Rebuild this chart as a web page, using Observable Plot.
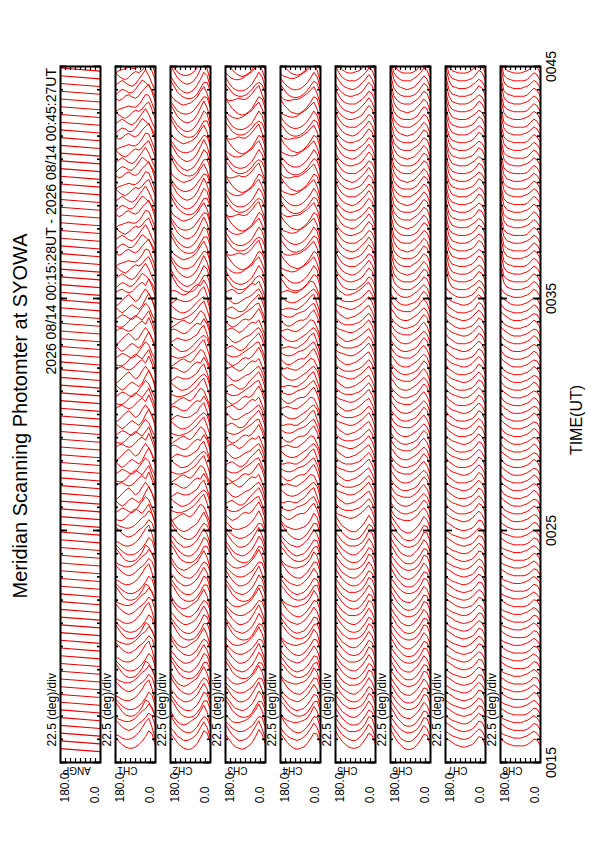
<!DOCTYPE html>
<html>
<head>
<meta charset="utf-8">
<script src="https://cdn.jsdelivr.net/npm/d3@7"></script>
<script src="https://cdn.jsdelivr.net/npm/@observablehq/plot@0.6"></script>
<style>
  html, body { margin: 0; padding: 0; background: #fff; }
  svg { display: block; }
</style>
</head>
<body>
<div id="chart"></div>
<script>
// ---------- data ----------
const channels = ["ANGP", "CH1", "CH2", "CH3", "CH4", "CH5", "CH6", "CH7", "CH8"];
const angles = [180, 165, 150, 135, 120, 105, 90, 75, 60, 45, 30, 15, 0];
const angleTicks = [22.5, 45, 67.5, 90, 112.5, 135, 157.5];
const timeTickLabels = ["0015", "0025", "0035", "0045"];
const day = "2026-08-14";
const scanStart = "00:15:28";
const scanEnd = "00:45:27";
const scanStepSec = 20;
const angpSweepSec = 8;                  // ANGP trace tilt during one sweep
const angpDirection = [0, 180];          // sweep from 0 deg to 180 deg
const blockStarts = ["00:15:00", "00:25:00", "00:35:00"];
const titleText = "Meridian Scanning Photomter at SYOWA";
const subtitleText = "2026 08/14 00:15:28UT - 2026 08/14 00:45:27UT";
const divLabel = "22.5 (deg)/div";
const axisTitle = "TIME(UT)";
const deflectSecPerUnit = 3.0;           // trace deflection (seconds of time per unit)

// profiles: [block][variant][angle 180 -> 0]
const ch1 = [
  [[12, 9, 6, 4, 3, 3, 4, 6, 9,13,18,15, 5],
   [ 8, 7, 5, 4, 4, 5, 7,10,14,19,22,14, 3],
   [14,11, 8, 6, 5, 6, 8,11,13,16,20,17, 8],
   [10, 8, 7, 6, 6, 7, 9,12,15,17,21,18, 9],
   [16,12, 8, 5, 4, 4, 5, 8,12,18,16,10, 4]],
  [[ 6, 8,10, 9, 7, 6, 8,12,16,20,17,10, 4],
   [10, 7, 5, 7,10,12,10, 8,11,17,22,16, 6],
   [ 4, 6, 9,12,14,11, 8,10,15,19,15, 9, 3],
   [ 9,11,12,10, 9,10,13,16,18,15,21,14, 5],
   [ 7, 6, 6, 8,11,14,16,14,12,16,20,12, 3]],
  [[ 8,10,12,10, 8, 7, 9,13,17,21,16, 9, 3],
   [12, 9, 7, 6, 8,11,13,12,14,18,20,13, 5],
   [ 5, 7, 8, 9,10, 9, 9,11,15,20,19,12, 4],
   [10, 8, 9,12,13,11,10,12,16,19,22,15, 6],
   [ 6, 9,11,10, 8, 8,11,15,19,17,14,10, 4]]
];
const ch2 = [
  [[16,12, 8, 5, 3, 2, 2, 4, 7,12,18,16, 7],
   [14,11, 7, 5, 3, 3, 4, 6, 9,14,19,14, 5],
   [18,13, 9, 6, 4, 3, 3, 5, 8,13,17,15, 8],
   [15,10, 6, 4, 3, 4, 6, 8,10,15,20,14, 4],
   [19,15,10, 6, 4, 3, 3, 4, 7,11,17,17, 9]],
  [[ 8, 7, 6, 6, 7, 8,10,12,15,19,22,14, 5],
   [12, 9, 7, 5, 5, 6, 8,11,14,17,19,16, 7],
   [ 6, 8,10, 9, 8, 8, 9,11,13,18,21,13, 4],
   [10,11,10, 8, 7, 8,11,14,16,15,20,15, 6],
   [ 5, 7, 9,11,12,10, 9,12,16,20,18,11, 3]],
  [[16,11, 7, 4, 2, 1, 2, 4, 8,13,19,16, 6],
   [18,13, 8, 5, 3, 2, 3, 5, 9,15,21,15, 5],
   [14,10, 6, 4, 3, 3, 4, 6,10,14,18,17, 8],
   [13, 9, 7, 5, 4, 5, 6, 8,11,16,20,14, 4],
   [19,14, 9, 6, 4, 3, 3, 4, 7,12,17,17, 9]]
];
const ch3 = [
  [[15,11, 7, 4, 3, 2, 3, 5, 8,13,19,15, 6],
   [17,12, 8, 5, 3, 3, 4, 6,10,15,20,13, 4],
   [13,10, 7, 5, 4, 4, 5, 7, 9,13,17,16, 7],
   [12, 9, 6, 5, 5, 6, 7, 9,12,16,21,15, 5],
   [18,14, 9, 6, 4, 3, 3, 4, 7,12,17,16, 8]],
  [[10, 8, 7, 7, 8,10,12,14,16,19,20,13, 5],
   [ 7, 9,10, 8, 6, 6, 8,12,15,18,21,15, 6],
   [13,10, 7, 6, 7, 9,11,12,14,17,19,14, 4],
   [ 9,11,12,10, 8, 9,12,15,17,16,19,12, 4],
   [11, 8, 6, 7, 9,12,13,12,14,18,22,16, 6]],
  [[15,10, 6, 4, 3, 3, 4, 6, 9,14,19,15, 5],
   [12, 9, 7, 6, 6, 7, 9,11,13,17,20,14, 6],
   [17,12, 8, 5, 3, 2, 3, 5, 8,13,18,16, 7],
   [10, 8, 8, 9,10, 9, 9,11,14,18,21,13, 5],
   [16,12, 8, 6, 5, 5, 6, 8,11,15,17,15, 7]]
];
const ch4 = [
  [[16,12, 8, 5, 3, 2, 3, 4, 7,11,16,15, 6],
   [14,10, 7, 5, 4, 3, 4, 6, 9,13,18,14, 5],
   [18,13, 9, 6, 4, 3, 3, 5, 8,12,17,16, 7],
   [13, 9, 7, 6, 5, 5, 6, 7, 9,13,19,15, 5],
   [17,14,10, 7, 5, 4, 4, 5, 7,11,16,17, 8]],
  [[11, 9, 8, 8, 9,11,12,13,15,18,20,14, 5],
   [ 8, 8, 9, 9, 8, 8,10,12,15,19,21,13, 4],
   [13,10, 8, 7, 7, 8,10,12,14,17,19,15, 6],
   [ 9,10,11,10, 9, 9,11,13,16,19,18,12, 4],
   [12, 9, 7, 7, 9,11,12,12,14,18,21,15, 6]],
  [[14,10, 7, 5, 4, 4, 5, 7,10,14,19,15, 5],
   [11, 9, 8, 7, 7, 8,10,12,14,17,20,14, 4],
   [16,11, 8, 5, 4, 3, 4, 6, 9,13,18,16, 6],
   [12, 9, 8, 8, 9, 9,10,12,14,17,20,14, 5],
   [15,11, 7, 5, 4, 4, 5, 7,10,14,18,16, 7]]
];
const ch5 = [
  [[18,13, 9, 6, 4, 3, 3, 4, 7,11,16,14, 6],
   [17,12, 8, 6, 4, 3, 3, 5, 8,12,17,13, 5],
   [16,12, 8, 6, 4, 4, 4, 5, 7,11,17,15, 6]],
  [[14,11, 9, 8, 8, 8, 9,10,12,15,18,14, 5],
   [15,11, 9, 7, 7, 8, 9,11,13,16,18,13, 5],
   [13,11,10, 9, 8, 8, 9,11,13,16,19,14, 5]],
  [[16,11, 8, 6, 5, 5, 6, 7, 9,13,17,14, 5],
   [17,12, 8, 6, 5, 4, 5, 7,10,13,17,13, 5],
   [18,12, 8, 6, 5, 5, 5, 7, 9,12,16,14, 6]]
];
const ch6 = [
  [[19,14, 9, 6, 3, 2, 2, 3, 6,10,15,14, 6],
   [18,13, 9, 5, 3, 2, 2, 4, 7,11,16,13, 5],
   [17,13, 9, 6, 4, 3, 3, 4, 6,10,16,15, 7]],
  [[15,11, 8, 6, 5, 5, 6, 7, 9,13,17,14, 5],
   [16,12, 8, 6, 5, 5, 6, 8,10,13,16,13, 5],
   [16,11, 8, 7, 6, 6, 6, 8,10,14,17,13, 5]],
  [[24,12, 8, 6, 5, 5, 5, 6, 8,12,16,14, 6],
   [25,13, 8, 6, 5, 4, 5, 6, 9,12,16,13, 5],
   [24,12, 8, 6, 5, 5, 5, 7, 9,12,16,14, 6]]
];
const ch7 = [
  [[12,10, 8, 6, 5, 4, 4, 5, 6, 9,13,12, 5],
   [11, 9, 7, 6, 5, 4, 4, 5, 7,10,13,11, 5]],
  [[14,10, 8, 6, 5, 5, 5, 6, 7,10,14,12, 5],
   [13,10, 8, 7, 6, 5, 5, 6, 8,11,14,11, 5]],
  [[24,11, 7, 6, 5, 5, 5, 6, 7,10,14,12, 5],
   [25,12, 7, 6, 5, 5, 5, 6, 8,10,13,11, 5]]
];
const ch8 = [
  [[11, 9, 7, 6, 5, 5, 5, 5, 6, 8,11,10, 5],
   [10, 8, 7, 6, 5, 5, 5, 6, 7, 9,11, 9, 5]],
  [[13, 9, 7, 6, 5, 5, 5, 6, 7, 9,12,10, 5],
   [13,10, 8, 6, 5, 5, 5, 6, 7, 9,11,10, 5]],
  [[23,10, 7, 6, 5, 5, 5, 5, 6, 9,12,10, 5],
   [24,11, 7, 6, 5, 5, 5, 6, 7, 9,12,10, 5]]
];

// ---------- build tables ----------
const T = hms => new Date(`${day}T${hms}Z`);
const profileSets = {CH1: ch1, CH2: ch2, CH3: ch3, CH4: ch4, CH5: ch5, CH6: ch6, CH7: ch7, CH8: ch8};
const t0 = T(scanStart), t1 = T(scanEnd);
const nScans = Math.floor((t1 - t0) / (scanStepSec * 1000)) + 1;
const scanTimes = d3.range(nScans).map(i => new Date(+t0 + i * scanStepSec * 1000));
const blockTimes = blockStarts.map(T);

const traces = [];
scanTimes.forEach((t, i) => {
  const b = Math.max(0, d3.bisectRight(blockTimes, t) - 1);
  for (const ch of channels.slice(1)) {
    const variants = profileSets[ch][b];
    const prof = variants[i % variants.length];
    prof.forEach((v, k) => traces.push({
      ch, scan: i, angle: angles[k],
      time: new Date(+t + v * deflectSecPerUnit * 1000)
    }));
  }
});
const angp = [];
scanTimes.forEach((t, i) => {
  angp.push({ch: "ANGP", scan: i, angle: angpDirection[0], time: t});
  angp.push({ch: "ANGP", scan: i, angle: angpDirection[1], time: new Date(+t + angpSweepSec * 1000)});
});

const yStart = T("00:15:00"), yEnd = T("00:45:00");
const minuteTimes = d3.utcMinute.range(yStart, new Date(+yEnd + 1));
const labelTimes = timeTickLabels.map(l => T(`${l.slice(0, 2)}:${l.slice(2)}:00`));

const degPerPx = 180 / 40;
const secPerPx = 1800 / 696;
const shift = (d, px) => new Date(+d + px * secPerPx * 1000);

const font = "Liberation Sans, Arial, Helvetica, sans-serif";

const chart = Plot.plot({
  width: 595,
  height: 842,
  marginLeft: 60,
  marginRight: 55,
  marginTop: 66,
  marginBottom: 80,
  style: {fontFamily: font, background: "#fff", overflow: "visible"},
  fx: {domain: channels, paddingInner: 15 / 55, paddingOuter: 0, axis: null, label: null},
  x: {domain: [180, 0], axis: null},
  y: {type: "utc", domain: [yStart, yEnd], axis: null},
  marks: [
    Plot.line(traces, {fx: "ch", x: "angle", y: "time", z: "scan", stroke: "#ff0000", strokeWidth: 1, clip: true}),
    Plot.line(angp, {fx: "ch", x: "angle", y: "time", z: "scan", stroke: "#e80000", strokeWidth: 1.1, clip: true}),
    // angle ticks on bottom and top edges
    Plot.ruleX(angleTicks, {x: d => d, y1: () => yStart, y2: () => shift(yStart, 4), stroke: "black", strokeWidth: 1.2}),
    Plot.ruleX(angleTicks, {x: d => d, y1: () => yEnd, y2: () => shift(yEnd, -4), stroke: "black", strokeWidth: 1.2}),
    // minute ticks on both sides
    Plot.ruleY(minuteTimes, {y: d => d, x1: () => 180, x2: () => 180 - 3 * degPerPx, stroke: "black", strokeWidth: 1.6}),
    Plot.ruleY(minuteTimes, {y: d => d, x1: () => 0, x2: () => 3 * degPerPx, stroke: "black", strokeWidth: 1.6}),
    Plot.ruleY(labelTimes, {y: d => d, x1: () => 180, x2: () => 180 - 7 * degPerPx, stroke: "black", strokeWidth: 1.8}),
    Plot.ruleY(labelTimes, {y: d => d, x1: () => 0, x2: () => 7 * degPerPx, stroke: "black", strokeWidth: 1.8}),
    Plot.frame({stroke: "black", strokeWidth: 2}),
    // per-panel labels
    Plot.text(channels, {fx: d => d, x: () => 180 + 8 * degPerPx, y: () => shift(yStart, 16),
      text: () => divLabel, rotate: -90, textAnchor: "start", fontSize: 12, fill: "black"}),
    Plot.text(channels, {fx: d => d, x: () => 180 - 2 * degPerPx, y: () => shift(yStart, -8),
      text: d => d, rotate: 180, textAnchor: "end", fontSize: 10, fill: "black"}),
    Plot.text(channels, {fx: d => d, x: () => 180 - 4.5 * degPerPx, y: () => shift(yStart, -10),
      text: () => "180.0", rotate: -90, textAnchor: "end", fontSize: 12, fill: "black"}),
    Plot.text(channels, {fx: d => d, x: () => 5 * degPerPx, y: () => shift(yStart, -24),
      text: () => "0.0", rotate: -90, textAnchor: "end", fontSize: 12, fill: "black"}),
    // time tick labels to the right of the last panel
    Plot.text(labelTimes, {fx: () => "CH8", x: () => -11 * degPerPx, y: d => d,
      text: (d, i) => timeTickLabels[i], rotate: -90, textAnchor: "middle", fontSize: 14, fill: "black"})
  ]
});

document.getElementById("chart").appendChild(chart);

const svg = d3.select(chart);
svg.append("text")
  .attr("transform", "translate(27,416) rotate(-90)")
  .attr("text-anchor", "middle")
  .attr("font-family", font)
  .attr("font-size", 20)
  .attr("fill", "black")
  .text(titleText);
svg.append("text")
  .attr("transform", "translate(56,68) rotate(-90)")
  .attr("text-anchor", "end")
  .attr("font-family", font)
  .attr("font-size", 14)
  .attr("fill", "black")
  .text(subtitleText);
svg.append("text")
  .attr("transform", "translate(582,420) rotate(-90)")
  .attr("text-anchor", "middle")
  .attr("font-family", font)
  .attr("font-size", 16)
  .attr("fill", "black")
  .text(axisTitle);
</script>
</body>
</html>
